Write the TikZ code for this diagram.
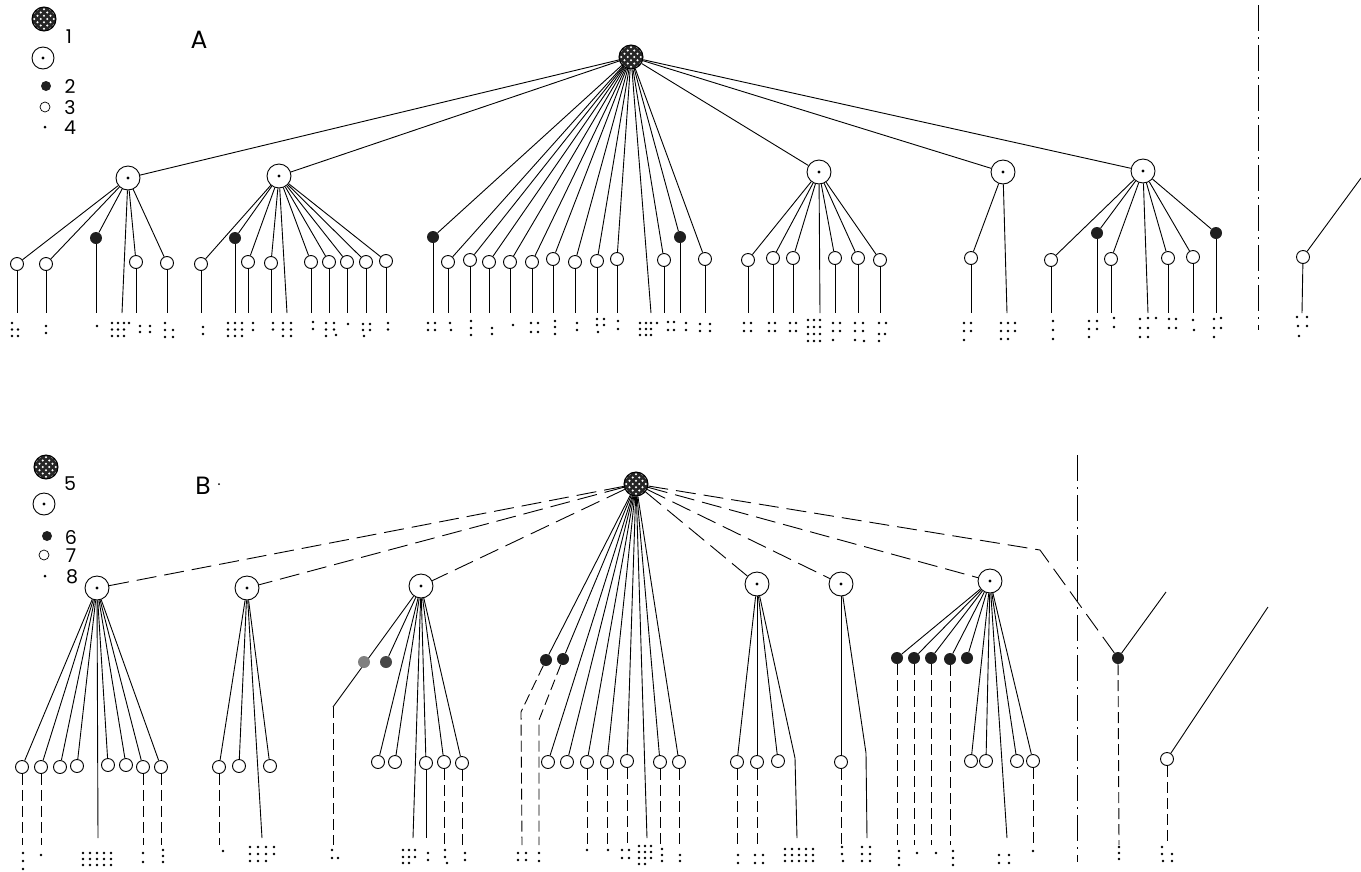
\documentclass[tikz,border=0pt]{standalone}
\usepackage{fontspec}
\setmainfont{Poppins}
\begin{document}
\begin{tikzpicture}[x=1pt,y=-1pt,
  ed/.style={line width=0.9pt},
  vd/.style={dash pattern=on 11pt off 5pt},
  td/.style={dash pattern=on 20pt off 8pt},
  dd/.style={line width=1pt,dash pattern=on 26pt off 6pt on 2pt off 6pt},
  big/.style={circle,draw,line width=0.9pt,fill=white,minimum size=24pt,inner sep=0pt,
    path picture={\fill[black] (path picture bounding box.center) circle (1.7);}},
  root/.style={circle,draw,line width=1pt,minimum size=24pt,inner sep=0pt,
    path picture={\foreach \i in {-5,...,5}{
      \draw[line width=2.8pt,black!85,shift={(path picture bounding box.center)}] (\i*6.5-20,-20) -- ++(40,40);
      \draw[line width=2.8pt,black!85,shift={(path picture bounding box.center)}] (\i*6.5+20,-20) -- ++(-40,40);}}},
  op/.style={circle,draw,line width=0.9pt,fill=white,minimum size=13pt,inner sep=0pt},
  fi/.style={circle,fill=black!88,minimum size=12pt,inner sep=0pt},
  gr/.style={circle,fill=black!50,minimum size=12pt,inner sep=0pt},
  gd/.style={circle,fill=black!72,minimum size=12pt,inner sep=0pt},
  lbl/.style={font=\fontsize{19}{20}\selectfont,inner sep=0pt},
  ttl/.style={font=\fontsize{25}{26}\selectfont,inner sep=0pt}]
\useasboundingbox (0,0) rectangle (1361,871);
\newcommand\brl[3]{\foreach \p/\q in {#3}{\fill ({#1+\p},{#2+\q}) circle (1.3);}}
\newcommand\lfA[5]{\node[#3] (#2) at (#4,#5) {};
  \coordinate (#2e) at (#4,313);
  \draw[ed] (#1) -- (#2); \draw[ed] (#2) -- (#2e);}
\newcommand\lnA[3]{\coordinate (#2) at (#3,313); \draw[ed] (#1) -- (#2);}
\newcommand\lfB[6]{\node[#3] (#2) at (#4,#5) {};
  \draw[ed] (#1) -- (#2);
  \ifcase#6\or\coordinate (#2e) at (#4,845); \draw[ed,vd] (#2) -- (#2e);%
  \or\coordinate (#2e) at (#4,838); \draw[ed] (#2) -- (#2e);\fi}
\newcommand\lnB[3]{\coordinate (#2) at (#3,838); \draw[ed] (#1) -- (#2);}

% ---------------- legend A
\node[root] (lgA1) at (44,19) {};
\node[lbl] (lgA1t) at (69,37) {1};
\node[big,minimum size=22pt] (lgA2) at (43,58) {};
\node[fi,minimum size=10pt] (lgA3) at (46,86) {};
\node[lbl] (lgA3t) at (70,87) {2};
\node[op,minimum size=10pt,line width=0.7pt] (lgA4) at (45,107) {};
\node[lbl] (lgA4t) at (70,108) {3};
\node[circle,fill,inner sep=0pt,minimum size=3pt] (lgA5) at (45,127) {};
\node[lbl] (lgA5t) at (70,128) {4};
\node[ttl] (tA) at (199,40) {A};

% ---------------- tree A
\node[root] (RA) at (631,57) {};
\node[big] (A1) at (128,178) {};
\node[big] (A2) at (279,176) {};
\node[big] (A4) at (819,172) {};
\node[big] (A5) at (1003,172) {};
\node[big] (A6) at (1143,171) {};
\foreach \n in {A1,A2,A4,A5,A6} \draw[ed] (RA) -- (\n);

\lfA{A1}{a11}{op}{17}{264}
\lfA{A1}{a12}{op}{46}{264}
\lfA{A1}{a13}{fi}{96}{238}
\lnA{A1}{a14}{122}
\lfA{A1}{a15}{op}{136}{262}
\lfA{A1}{a16}{op}{167}{263}

\lfA{A2}{a21}{op}{201}{264}
\lfA{A2}{a22}{fi}{235}{238}
\lfA{A2}{a23}{op}{248}{262}
\lfA{A2}{a24}{op}{271}{263}
\lnA{A2}{a25}{287}
\lfA{A2}{a26}{op}{311}{262}
\lfA{A2}{a27}{op}{329}{262}
\lfA{A2}{a28}{op}{347}{262}
\lfA{A2}{a29}{op}{366}{262}
\lfA{A2}{a2a}{op}{386}{261}

\lfA{RA}{a31}{fi}{433}{237}
\lfA{RA}{a32}{op}{448}{262}
\lfA{RA}{a33}{op}{470}{260}
\lfA{RA}{a34}{op}{489}{262}
\lfA{RA}{a35}{op}{510}{262}
\lfA{RA}{a36}{op}{532}{262}
\lfA{RA}{a37}{op}{553}{259}
\lfA{RA}{a38}{op}{575}{262}
\lfA{RA}{a39}{op}{597}{261}
\lfA{RA}{a3a}{op}{617}{259}
\lnA{RA}{a3b}{651}
\lfA{RA}{a3c}{op}{664}{260}
\lfA{RA}{a3d}{fi}{680}{237}
\lfA{RA}{a3e}{op}{705}{259}

\lfA{A4}{a41}{op}{748}{260}
\lfA{A4}{a42}{op}{773}{258}
\lfA{A4}{a43}{op}{793}{258}
\lnA{A4}{a44}{820}
\lfA{A4}{a45}{op}{835}{258}
\lfA{A4}{a46}{op}{858}{258}
\lfA{A4}{a47}{op}{880}{260}

\lfA{A5}{a51}{op}{971}{258}
\lnA{A5}{a52}{1007}

\lfA{A6}{a61}{op}{1051}{260}
\lfA{A6}{a62}{fi}{1097}{233}
\lfA{A6}{a63}{op}{1111}{259}
\lnA{A6}{a64}{1148}
\lfA{A6}{a65}{op}{1168}{258}
\lfA{A6}{a66}{op}{1193}{257}
\lfA{A6}{a67}{fi}{1216}{233}

% right part of A
\coordinate (dAt) at (1258,5); \coordinate (dAb) at (1258,330);
\draw[dd] (dAt) -- (dAb);
\coordinate (xA) at (1361,178);
\node[op] (a71) at (1303,257) {};
\coordinate (a71e) at (1302,313);
\draw[ed] (xA) -- (a71); \draw[ed] (a71) -- (a71e);

% dots under A
\brl{12}{323}{0/0,0/6.5,6/6.5,0/13,6/13}
\brl{46}{323}{0/3,0/10}
\brl{97}{323}{0/3}
\brl{112}{323}{0/0,6/0,12/0,17/0,0/6.5,6/6.5,12/6.5,0/13,6/13,12/13}
\brl{140}{323}{0/3,10/3,0/9,10/9}
\brl{165}{323}{0/0,0/7,8/7,0/14,8/14}
\brl{203}{323}{0/4,0/11}
\brl{228}{323}{0/0,7/0,14/0,0/6.5,7/6.5,14/6.5,0/13,7/13,14/13}
\brl{253}{323}{0/0,0/7}
\brl{273}{323}{0/0,0/6.5}
\brl{283}{323}{0/0,8/0,0/6.5,8/6.5,0/13,8/13}
\brl{313}{323}{0/-1,0/6}
\brl{326}{323}{0/0,8/0,0/6.5,8/6.5,0/13,10/12}
\brl{348}{323}{0/1}
\brl{363}{323}{0/1,7/1,0/7,7/7,1/13}
\brl{388}{323}{0/0,0/6.5}
\brl{428}{323}{0/0,7/0,0/7,7/7}
\brl{450}{323}{0/0,1/7}
\brl{471}{323}{0/-2,0/5,0/12}
\brl{492}{323}{0/5,0/11}
\brl{513}{323}{0/2}
\brl{531}{323}{0/0,7/0,0/9,7/9}
\brl{555}{323}{0/-2,0/4,0/11}
\brl{577}{323}{0/0,0/7}
\brl{597}{323}{0/-4,7/-4,0/2,7/2,1/9}
\brl{618}{323}{0/-2,0/6}
\brl{640}{323}{0/0,6/0,11/0,17/0,0/6,6/6,11/6,0/12,6/12,11/12}
\brl{668}{323}{0/-1,6/-1,0/7,6/7}
\brl{686}{323}{0/0,0/7}
\brl{700}{323}{0/1,10/1,0/8,10/8}
\brl{744}{323}{0/0,7/0,0/8,7/8}
\brl{769}{323}{0/0,6/0,0/8,6/8}
\brl{790}{323}{0/0,6/0,0/8,6/8}
\brl{808}{323}{0/-3,6/-3,12/-3,0/4,6/4,12/4,0/11,6/11,12/11,0/18,6/18,12/18}
\brl{833}{323}{0/0,7/0,0/8,7/8,0/17}
\brl{855}{323}{0/0,8/0,0/8,8/8,0/17,9/18}
\brl{879}{323}{0/0,7/0,0/11,6/11,0/18}
\brl{964}{323}{0/0,7/0,0/8,7/8,0/17}
\brl{1001}{323}{0/0,7/0,14/0,0/8,7/8,14/8,0/16,7/16}
\brl{1053}{323}{0/-2,0/7,0/16}
\brl{1089}{323}{0/-2,8/-2,0/6,8/6,0/14}
\brl{1114}{323}{0/-5,0/4}
\brl{1140}{323}{0/-4,8/-5,16/-5,0/5,8/5,0/14,8/14}
\brl{1169}{323}{0/-4,7/-4,0/5,7/5}
\brl{1193}{323}{0/-3,1/7}
\brl{1214}{323}{0/-4,7/-5,0/5,7/5,0/14}
\brl{1297}{323}{0/-6,10/-6,1/3,10/3,2/13}

% ---------------- legend B
\node[root] (lgB1) at (46,467) {};
\node[lbl] (lgB1t) at (70,484) {5};
\node[big,minimum size=22pt] (lgB2) at (44,504) {};
\node[fi,minimum size=10pt] (lgB3) at (47,536) {};
\node[lbl] (lgB3t) at (71,537) {6};
\node[op,minimum size=10pt,line width=0.7pt] (lgB4) at (44,555) {};
\node[lbl] (lgB4t) at (71,556) {7};
\node[circle,fill,inner sep=0pt,minimum size=3pt] (lgB5) at (45,576) {};
\node[lbl] (lgB5t) at (72,577) {8};
\node[ttl] (tB) at (203,486) {B};
\node[circle,fill,inner sep=0pt,minimum size=2pt] (tBd) at (219,484) {};

% ---------------- tree B
\node[root] (RB) at (636,484) {};
\node[big] (B1) at (97,588) {};
\node[big] (B2) at (247,588) {};
\node[big] (B3) at (421,586) {};
\node[big] (B4) at (757,584) {};
\node[big] (B5) at (841,584) {};
\node[big] (B6) at (990,581) {};
\foreach \n in {B1,B2,B3,B4,B5,B6} \draw[ed,td] (RB) -- (\n);

\lfB{B1}{b11}{op}{22}{767}{1}
\lfB{B1}{b12}{op}{41}{767}{1}
\lfB{B1}{b13}{op}{60}{767}{0}
\lfB{B1}{b14}{op}{77}{766}{0}
\lnB{B1}{b15}{98}
\lfB{B1}{b16}{op}{108}{765}{0}
\lfB{B1}{b17}{op}{126}{765}{0}
\lfB{B1}{b18}{op}{143}{767}{1}
\lfB{B1}{b19}{op}{161}{767}{1}

\lfB{B2}{b21}{op}{219}{767}{1}
\lfB{B2}{b22}{op}{239}{766}{0}
\lnB{B2}{b23}{262}
\lfB{B2}{b24}{op}{270}{766}{0}

\coordinate (b3k) at (333,707);
\coordinate (b3e) at (333,845);
\draw[ed] (B3) -- (b3k);
\draw[ed,vd] (b3k) -- (b3e);
\node[gr] (b31) at (364,662) {};
\node[gd] (b32) at (386,662) {};
\draw[ed] (B3) -- (b32);
\lfB{B3}{b33}{op}{378}{762}{0}
\lfB{B3}{b34}{op}{395}{762}{0}
\lnB{B3}{b35}{413}
\lfB{B3}{b36}{op}{426}{763}{2}
\lfB{B3}{b37}{op}{444}{762}{1}
\lfB{B3}{b38}{op}{462}{763}{1}

\node[fi] (c1) at (546,660) {};
\node[fi] (c2) at (563,659) {};
\draw[ed] (RB) -- (c1); \draw[ed] (RB) -- (c2);
\coordinate (c1k) at (521,712); \coordinate (c1e) at (522,845);
\coordinate (c2k) at (539,720); \coordinate (c2e) at (539,845);
\draw[ed,vd] (c1) -- (c1k) -- (c1e);
\draw[ed,vd] (c2) -- (c2k) -- (c2e);
\lfB{RB}{c3}{op}{548}{762}{0}
\lfB{RB}{c4}{op}{567}{762}{0}
\lfB{RB}{c5}{op}{587}{762}{1}
\lfB{RB}{c6}{op}{607}{762}{1}
\lfB{RB}{c7}{op}{627}{761}{1}
\lnB{RB}{c8}{647}
\lfB{RB}{c9}{op}{660}{762}{1}
\lfB{RB}{ca}{op}{679}{762}{1}

\lfB{B4}{b41}{op}{737}{762}{1}
\lfB{B4}{b42}{op}{757}{762}{1}
\lfB{B4}{b43}{op}{778}{761}{0}
\coordinate (b4k) at (795,758); \coordinate (b4e) at (797,838);
\draw[ed] (B4) -- (b4k) -- (b4e);

\lfB{B5}{b51}{op}{841}{762}{1}
\coordinate (b5k) at (866,753); \coordinate (b5e) at (867,838);
\draw[ed] (B5) -- (b5k) -- (b5e);

\lfB{B6}{b61}{fi}{897}{658}{1}
\lfB{B6}{b62}{fi}{914}{658}{1}
\lfB{B6}{b63}{fi}{931}{658}{1}
\lfB{B6}{b64}{fi}{950}{659}{1}
\lfB{B6}{b65}{fi}{967}{658}{0}
\lfB{B6}{b66}{op}{971}{761}{0}
\lfB{B6}{b67}{op}{986}{761}{0}
\lnB{B6}{b68}{1007}
\lfB{B6}{b69}{op}{1017}{761}{0}
\lfB{B6}{b6a}{op}{1033}{761}{1}

% right part of B
\coordinate (dBt) at (1077,455); \coordinate (dBb) at (1077,862);
\draw[dd] (dBt) -- (dBb);
\coordinate (rk) at (1040,550);
\node[fi] (r1) at (1118,658) {};
\draw[ed,td] (RB) -- (rk) -- (r1);
\coordinate (r1u) at (1166,592); \coordinate (r1e) at (1119,845);
\draw[ed] (r1) -- (r1u);
\draw[ed,vd] (r1) -- (r1e);
\node[op] (r2) at (1167,759) {};
\coordinate (r2u) at (1268,607); \coordinate (r2e) at (1167,845);
\draw[ed] (r2) -- (r2u);
\draw[ed,vd] (r2) -- (r2e);

% dots under B
\brl{23}{853}{0/0,0/8,0/16}
\brl{41}{853}{0/2}
\brl{83}{853}{0/0,7/0,14/0,21/0,28/0,0/6,7/6,14/6,21/6,28/6,0/12,7/12,14/12,21/12,28/12}
\brl{143}{853}{0/0,0/9}
\brl{163}{853}{0/-3,0/3,0/9}
\brl{223}{853}{0/-2}
\brl{250}{853}{0/-6,8/-6,16/-6,24/-6,0/1,8/1,16/1,24/1,0/8,8/8,16/8}
\brl{332}{853}{0/-3,0/5,6/5}
\brl{403}{853}{0/-3,6/-3,12/-3,0/4,6/4,12/4,0/10,6/10}
\brl{428}{853}{0/0,0/7}
\brl{445}{853}{0/-3,0/4,2/10}
\brl{465}{853}{0/0,0/7}
\brl{518}{853}{0/0,8/0,0/7,8/7}
\brl{539}{853}{0/0,0/8}
\brl{587}{853}{0/-3}
\brl{608}{853}{0/-3}
\brl{622}{853}{0/-3,7/-3,0/5,7/5}
\brl{639}{853}{0/-7,6/-7,12/-7,0/-1,6/-1,12/-1,0/5,6/5,12/5,0/11,6/11}
\brl{662}{853}{0/-4,0/2,0/8}
\brl{680}{853}{0/2,0/8}
\brl{738}{853}{0/2,0/10}
\brl{755}{853}{0/2,8/2,0/10,8/10}
\brl{785}{853}{0/-4,7/-4,14/-4,21/-4,28/-4,0/2,7/2,14/2,21/2,28/2,0/8,7/8,14/8,21/8,28/8}
\brl{842}{853}{0/-6,0/1,1/8}
\brl{862}{853}{0/-6,8/-6,0/1,8/1,0/8,8/8}
\brl{899}{853}{0/-2,0/5,0/12}
\brl{917}{853}{0/0}
\brl{936}{853}{0/0}
\brl{953}{853}{0/-2,0/5,0/12}
\brl{999}{853}{0/2,10/2,0/10,10/10}
\brl{1033}{853}{0/-2}
\brl{1119}{853}{0/-6,0/0,0/6}
\brl{1162}{853}{0/-6,0/1,10/1,1/8,10/8}
\end{tikzpicture}
\end{document}
